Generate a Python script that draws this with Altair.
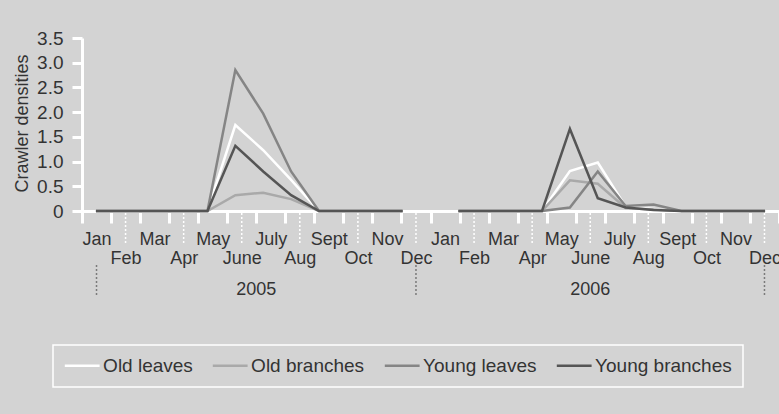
import altair as alt
import pandas as pd

# Sampling occasions, roughly monthly from Jan 2005 to Dec 2006
samples = [f"S{i + 1:02d}" for i in range(25)]

# Crawler densities per substrate (None = not sampled)
old_leaves = [0, 0, 0, 0, 0, 1.74, 1.23, 0.63, 0, 0, 0, 0, None,
              0, 0, 0, 0, 0.81, 0.98, 0.09, 0.04, 0, 0, 0, 0]
old_branches = [0, 0, 0, 0, 0, 0.32, 0.37, 0.24, 0, 0, 0, 0, None,
                0, 0, 0, 0, 0.62, 0.55, 0.06, 0.03, 0, 0, 0, 0]
young_leaves = [0, 0, 0, 0, 0, 2.85, 1.97, 0.80, 0, 0, 0, 0, None,
                0, 0, 0, 0, 0.07, 0.80, 0.10, 0.13, 0, 0, 0, 0]
young_branches = [0, 0, 0, 0, 0, 1.32, 0.80, 0.32, 0, 0, 0, 0, None,
                  0, 0, 0, 0, 1.66, 0.26, 0.07, 0.02, 0, 0, 0, 0]

series_names = ["Old leaves", "Old branches", "Young leaves", "Young branches"]
series_colors = ["#ffffff", "#a9a9a9", "#858585", "#555555"]

month_names = ["Jan", "Feb", "Mar", "Apr", "May", "June",
               "July", "Aug", "Sept", "Oct", "Nov", "Dec"]
years = ["2005", "2006"]
month_keys = [f"{y}-{m:02d}" for y in years for m in range(1, 13)]

# Year brackets on the month index scale (0 = Jan 2005)
year_start = [0, 11]
year_end = [11, 23]
year_separators = [0, 11, 23]

y_ticks = [0, 0.5, 1.0, 1.5, 2.0, 2.5, 3.0, 3.5]

BG = "#d3d3d3"
TEXT = "#333333"
W, H = 697, 173

rows = []
for name, vals in zip(series_names, [old_leaves, old_branches, young_leaves, young_branches]):
    for s, v in zip(samples, vals):
        rows.append({"series": name, "sample": s, "value": v})
df = pd.DataFrame(rows)

months_df = pd.DataFrame({
    "key": month_keys,
    "num": [m for _ in years for m in range(1, 13)],
})
leaders_df = months_df[months_df["num"] % 2 == 0]

name_list = "[" + ",".join(f"'{n}'" for n in month_names) + "]"
month_no = "toNumber(substring(datum.value, 5, 7))"

month_axis = alt.Axis(
    title=None,
    labelExpr=f"{name_list}[{month_no} - 1]",
    labelAngle=0,
    labelFontSize=18,
    labelColor=TEXT,
    labelPadding={"condition": {"test": f"{month_no} % 2 == 0", "value": 26}, "value": 7},
    ticks=True,
    tickBand="extent",
    tickSize=12,
    tickWidth=3,
    tickColor="white",
    domainColor="white",
    domainWidth=3,
    grid=False,
)

# Month axis with dotted leaders to the lower row of labels
months_layer = alt.Chart(leaders_df).mark_rule(
    color="white", strokeDash=[2, 2], strokeWidth=1.5
).encode(
    x=alt.X("key:N", scale=alt.Scale(type="band", domain=month_keys,
                                     paddingInner=0, paddingOuter=0),
            axis=month_axis),
    y=alt.value(H + 2),
    y2=alt.value(H + 34),
)

lines = alt.Chart(df).mark_line(strokeWidth=2.5).encode(
    x=alt.X("sample:O", scale=alt.Scale(type="point", domain=samples, padding=0.5),
            axis=None),
    y=alt.Y("value:Q", scale=alt.Scale(domain=[0, 3.5], nice=False),
            axis=alt.Axis(
                title="Crawler densities",
                values=y_ticks,
                labelExpr="datum.value == 0 ? '0' : format(datum.value, '.1f')",
                labelFontSize=19,
                labelColor=TEXT,
                labelPadding=9,
                tickSize=10,
                tickWidth=3,
                tickColor="white",
                domainColor="white",
                domainWidth=3,
                grid=False,
                titleFontSize=18,
                titleFontWeight="normal",
                titleColor=TEXT,
                titleBaseline="alphabetic",
                titleX=-55,
                titleY=85,
            )),
    color=alt.Color("series:N",
                    scale=alt.Scale(domain=series_names, range=series_colors),
                    legend=alt.Legend(
                        title=None,
                        orient="none",
                        legendX=-29,
                        legendY=307,
                        direction="horizontal",
                        symbolType="M-2.9,0H2.9",
                        symbolSize=144,
                        symbolStrokeWidth=2.5,
                        symbolOffset=8.7,
                        labelFontSize=19,
                        labelColor=TEXT,
                        labelOffset=11.4,
                        columnPadding=14,
                        padding=11,
                        strokeColor="white",
                    )),
)

year_scale = alt.Scale(domain=[-0.5, 23.5], nice=False, zero=False)

separators = alt.Chart(pd.DataFrame({"pos": year_separators})).mark_rule(
    color="#7a7a7a", strokeDash=[2, 2], strokeWidth=1.5
).encode(
    x=alt.X("pos:Q", scale=year_scale, axis=None),
    y=alt.value(H + 54),
    y2=alt.value(H + 86),
)

year_labels = alt.Chart(pd.DataFrame({"year": years, "start": year_start, "end": year_end})
).transform_calculate(
    mid="(datum.start + datum.end) / 2"
).mark_text(fontSize=18, color=TEXT, baseline="alphabetic").encode(
    x=alt.X("mid:Q", scale=year_scale, axis=None),
    y=alt.value(H + 84),
    text="year:N",
)

chart = alt.layer(months_layer, lines, separators, year_labels).resolve_scale(
    x="independent"
).properties(
    width=W,
    height=H,
    padding={"left": 82, "top": 38, "right": 0, "bottom": 203},
    autosize=alt.AutoSizeParams(type="none"),
    background=BG,
).configure(
    font="Liberation Sans",
).configure_view(
    strokeWidth=0,
).configure_legend(
    strokeWidth=1.5,
)

chart.save("out.html", embed_options={"renderer": "svg", "actions": False})
